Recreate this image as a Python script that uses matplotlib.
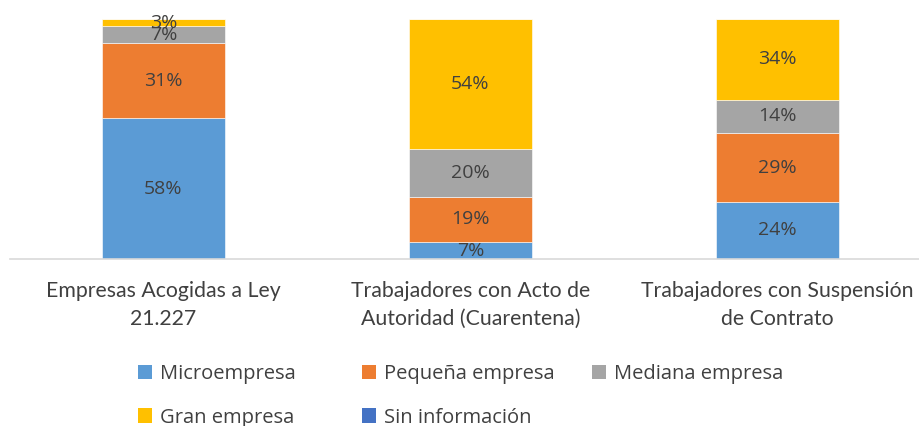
import numpy as np
import matplotlib.pyplot as plt
from matplotlib.patches import Patch

categories = ["Empresas Acogidas a Ley\n21.227",
              "Trabajadores con Acto de\nAutoridad (Cuarentena)",
              "Trabajadores con Suspensión\nde Contrato"]
series_names = ["Microempresa", "Pequeña empresa", "Mediana empresa",
                "Gran empresa", "Sin información"]
micro = [58, 7, 24]
pequena = [31, 19, 29]
mediana = [7, 20, 14]
gran = [3, 54, 34]
sin_info = [0, 0, 0]
colors = ["#5B9BD5", "#ED7D31", "#A5A5A5", "#FFC000", "#4472C4"]
text_color = "#404040"

plt.rcParams["font.family"] = ["Open Sans", "DejaVu Sans"]

data = np.array([micro, pequena, mediana, gran, sin_info], dtype=float)
totals = data.sum(axis=0)
shares = data / totals * 100

fig = plt.figure(figsize=(9.2, 4.26), dpi=100)
ax = fig.add_axes([10 / 920, 167 / 426, 921 / 920, 240 / 426])

x = np.arange(len(categories))
bottom = np.zeros(len(categories))
for i, name in enumerate(series_names):
    ax.bar(x, shares[i], 0.4, bottom=bottom, color=colors[i],
           edgecolor="white", linewidth=0.4, label=name)
    for j in range(len(categories)):
        if data[i, j] > 0:
            ax.text(x[j], bottom[j] + shares[i, j] / 2, f"{data[i, j]:.0f}%",
                    ha="center", va="center", fontsize=14, color=text_color)
    bottom += shares[i]

ax.set_xlim(-0.5, 2.5)
ax.set_ylim(0, 100)
ax.set_yticks([])
ax.set_xticks(x)
ax.set_xticklabels(categories, fontsize=15.3, color=text_color,
                   family=["Lato", "DejaVu Sans"], linespacing=1.5)
ax.tick_params(axis="x", length=0, pad=16)
for s in ["top", "right", "left"]:
    ax.spines[s].set_visible(False)
ax.spines["bottom"].set_color("#D9D9D9")
ax.spines["bottom"].set_linewidth(1.2)

# legend laid out in columns like the original (row-major order)
columns = [([0, 3], 138), ([1, 4], 362), ([2], 592)]
for idx, xpos in columns:
    handles = [Patch(facecolor=colors[k], label=series_names[k]) for k in idx]
    yc = 396 if len(idx) == 2 else 374
    leg = fig.legend(handles=handles, loc="center left",
                     bbox_to_anchor=(xpos / 920, 1 - yc / 426), frameon=False,
                     fontsize=14.5, labelcolor=text_color, handlelength=0.7,
                     handleheight=0.7, handletextpad=0.4, labelspacing=1.15,
                     borderpad=0, borderaxespad=0)

fig.savefig("out.png", dpi=100)
